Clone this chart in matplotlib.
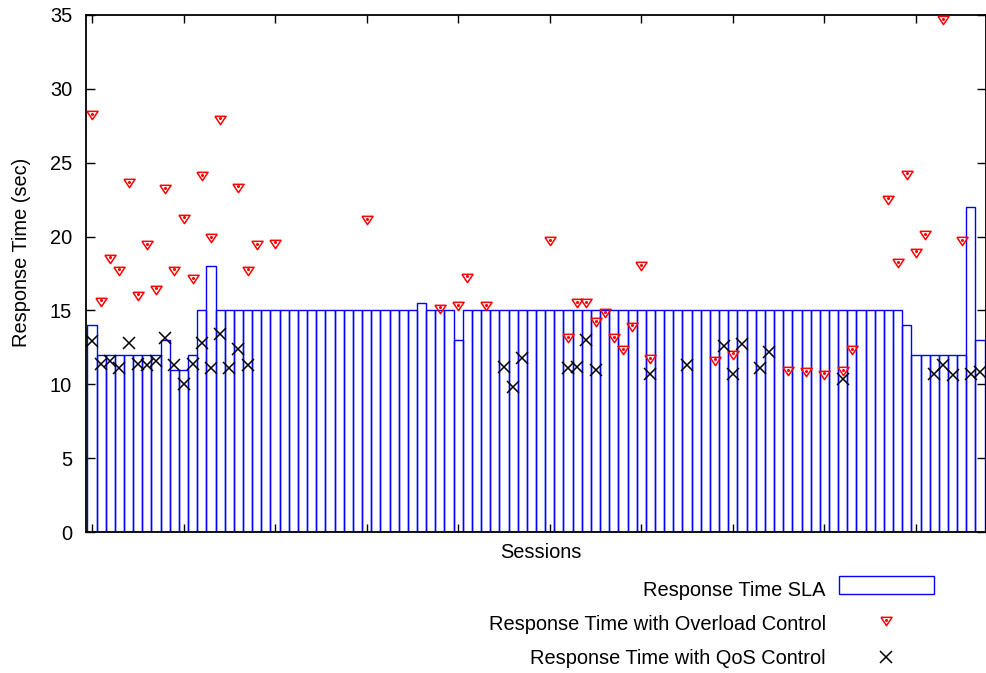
import matplotlib
matplotlib.use("Agg")
import matplotlib.pyplot as plt
from matplotlib.lines import Line2D
from matplotlib.patches import Rectangle

plt.rcParams['font.family'] = ['Liberation Sans', 'DejaVu Sans']
FS = 14.4

# Response time SLA per session (session index = list position)
sla = [14, 12, 12, 12, 12, 12, 12, 12, 13, 11, 11, 12, 15, 18,
       15, 15, 15, 15, 15, 15, 15, 15, 15, 15, 15, 15, 15, 15, 15, 15, 15, 15, 15, 15, 15, 15,
       15.5, 15, 15, 15, 13,
       15, 15, 15, 15, 15, 15, 15, 15, 15, 15, 15, 15, 15, 15, 15, 15, 15, 15, 15, 15, 15, 15, 15, 15,
       15, 15, 15, 15, 15, 15, 15, 15, 15, 15, 15, 15, 15, 15, 15, 15, 15, 15, 15, 15, 15, 15, 15, 15,
       14, 12, 12, 12, 12, 12, 12, 22, 13]

# Response time with overload control
ovl_sessions = [0, 1, 2, 3, 4, 5, 6, 7, 8, 9, 10, 11, 12, 13, 14, 16, 17, 18, 20, 30,
                38, 40, 41, 43, 50, 52, 53, 54, 55, 56, 57, 58, 59, 60, 61, 68, 70,
                76, 78, 80, 82, 83, 87, 88, 89, 90, 91, 93, 95]
ovl_times = [28.2, 15.6, 18.5, 17.7, 23.6, 16.0, 19.4, 16.4, 23.2, 17.7, 21.2, 17.1, 24.1, 19.9, 27.9,
             23.3, 17.7, 19.4, 19.5, 21.1,
             15.1, 15.3, 17.2, 15.3, 19.7, 13.1, 15.5, 15.5, 14.2, 14.8, 13.1, 12.3, 13.9, 18.0, 11.7,
             11.6, 12.0, 10.9, 10.8, 10.65, 10.9, 12.3, 22.5, 18.2, 24.2, 18.9, 20.1, 34.65, 19.7]

# Response time with QoS control
qos_sessions = [0, 1, 2, 3, 4, 5, 6, 7, 8, 9, 10, 11, 12, 13, 14, 15, 16, 17,
                45, 46, 47, 52, 53, 54, 55, 61, 65, 69, 70, 71, 73, 74, 82, 92, 93, 94, 96, 97]
qos_times = [12.9, 11.4, 11.6, 11.1, 12.8, 11.4, 11.3, 11.6, 13.1, 11.3, 10.0, 11.4, 12.8, 11.1, 13.4,
             11.1, 12.4, 11.3, 11.2, 9.8, 11.8, 11.1, 11.2, 13.0, 11.0, 10.7, 11.3, 12.6, 10.7, 12.7,
             11.1, 12.2, 10.35, 10.7, 11.3, 10.65, 10.7, 10.8]

W, H = 987, 673
fig = plt.figure(figsize=(W / 100, H / 100), dpi=100)
ax = fig.add_axes([86 / W, 1 - 532 / H, 900 / W, 517 / H])

blue = '#0000ff'
red = '#ff0000'
# gnuplot-like flat down triangle
tri = [(-1, 0.75), (1, 0.75), (0, -0.75), (-1, 0.75)]
tri_style = dict(marker=tri, markersize=8, markerfacecolor='none', markeredgecolor=red,
                 markeredgewidth=1.1, linestyle='none')
dot_style = dict(marker='o', markersize=1.2, color=red, linestyle='none')
x_style = dict(marker='x', markersize=8, color='black', markeredgewidth=1.1, linestyle='none')

ax.bar(range(len(sla)), sla, width=1.0, facecolor='none', edgecolor=blue, linewidth=1.0, zorder=2)
ax.plot(ovl_sessions, ovl_times, zorder=3, **tri_style)
ax.plot(ovl_sessions, [v + 0.1 for v in ovl_times], zorder=3, **dot_style)
ax.plot(qos_sessions, qos_times, zorder=4, **x_style)

ax.set_xlim(-0.65, 97.65)
ax.set_ylim(0, 35)
ax.set_xticks(range(0, 100, 10))
ax.set_xticklabels([])
ax.set_yticks(range(0, 36, 5))
ax.tick_params(direction='in', length=6.5, width=1, top=True, right=True, labelsize=FS, pad=10)
ax.tick_params(axis='x', length=6)
for s in ax.spines.values():
    s.set_linewidth(1.3)

fig.text(22 / W, 1 - 252 / H, 'Response Time (sec)', rotation=90, ha='center', va='center', fontsize=FS)
fig.text(541 / W, 1 - 553 / H, 'Sessions', ha='center', va='center', fontsize=FS)

# legend, right-aligned labels like the original
rows = [591, 625, 659]
labels = ['Response Time SLA', 'Response Time with Overload Control', 'Response Time with QoS Control']
for y, lab in zip(rows, labels):
    fig.text(826 / W, 1 - y / H, lab, ha='right', va='center', fontsize=FS)
fig.patches.append(Rectangle((839 / W, 1 - 594 / H), 95 / W, 18 / H, transform=fig.transFigure,
                             facecolor='none', edgecolor=blue, linewidth=1.0))
fig.lines.append(Line2D([886 / W], [1 - 621 / H], transform=fig.transFigure, **tri_style))
fig.lines.append(Line2D([886 / W], [1 - 620 / H], transform=fig.transFigure, **dot_style))
fig.lines.append(Line2D([886 / W], [1 - 657 / H], transform=fig.transFigure, **x_style))

fig.savefig('out.png', dpi=100)
